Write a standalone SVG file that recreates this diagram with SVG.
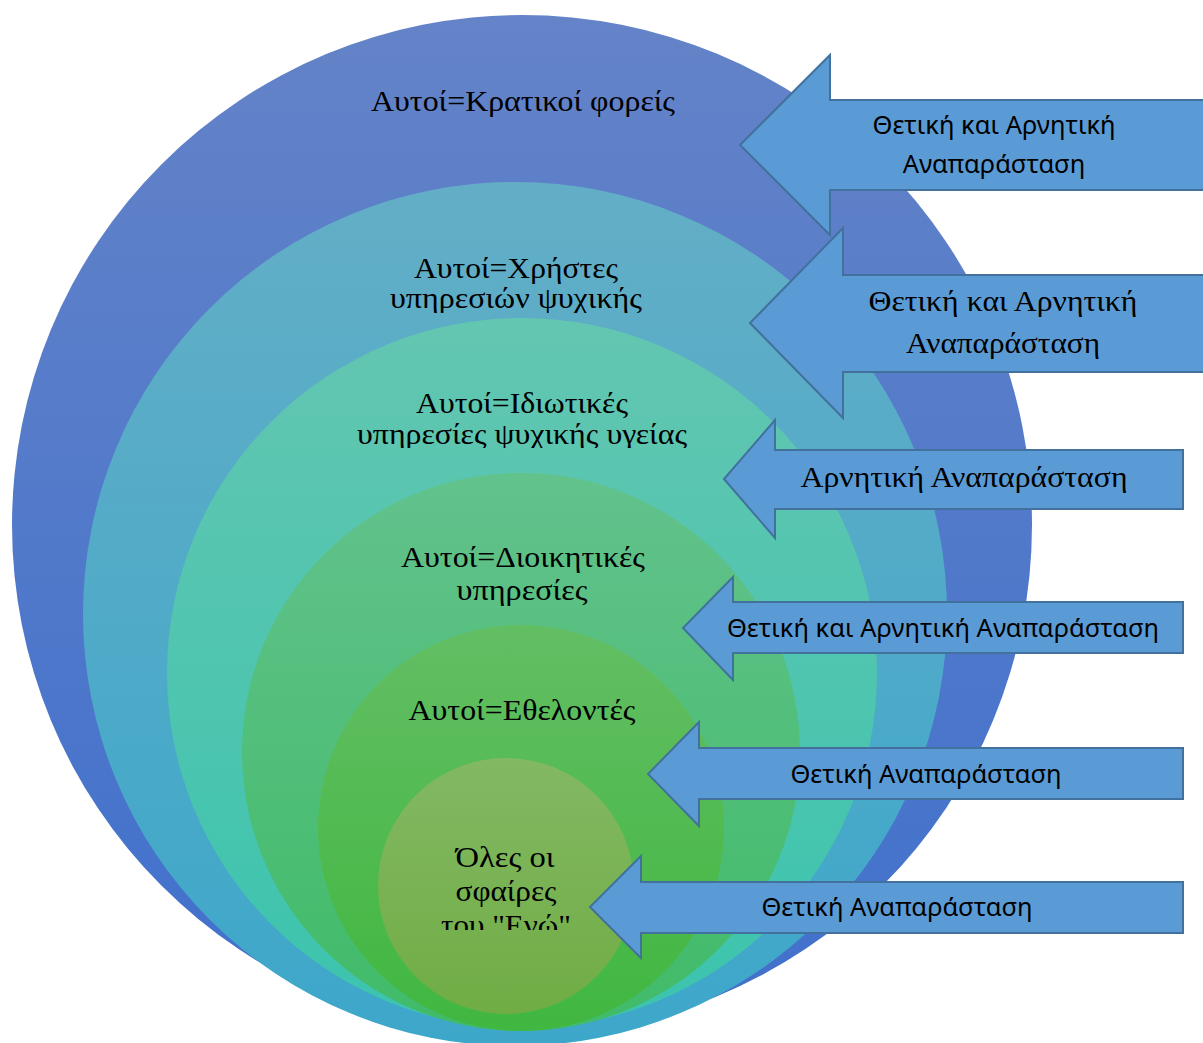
<svg xmlns="http://www.w3.org/2000/svg" width="1203" height="1043" viewBox="0 0 1203 1043">
<style>
.ct{font-family:"Liberation Serif","Times New Roman",serif;font-size:30px;fill:#000;text-anchor:middle}
.as{font-family:"Noto Sans","Open Sans","DejaVu Sans",sans-serif;font-size:25.5px;fill:#000;text-anchor:middle}
.ar{font-family:"Liberation Serif","Times New Roman",serif;font-size:30px;fill:#000;text-anchor:middle}
.arrow{fill:#5B9BD5;stroke:#41719C;stroke-width:2;stroke-linejoin:miter}
</style>
<defs>
<linearGradient id="g1" x1="0" y1="0" x2="0" y2="1"><stop offset="0" stop-color="#6483C8"/><stop offset="1" stop-color="#4070CC"/></linearGradient>
<linearGradient id="g2" x1="0" y1="0" x2="0" y2="1"><stop offset="0" stop-color="#63AEC6"/><stop offset="1" stop-color="#3DA7CA"/></linearGradient>
<linearGradient id="g3" x1="0" y1="0" x2="0" y2="1"><stop offset="0" stop-color="#63C6B1"/><stop offset="1" stop-color="#3BC4AE"/></linearGradient>
<linearGradient id="g4" x1="0" y1="0" x2="0" y2="1"><stop offset="0" stop-color="#62C28C"/><stop offset="1" stop-color="#40BB68"/></linearGradient>
<linearGradient id="g5" x1="0" y1="0" x2="0" y2="1"><stop offset="0" stop-color="#63BE63"/><stop offset="1" stop-color="#40B740"/></linearGradient>
<linearGradient id="g6" x1="0" y1="0" x2="0" y2="1"><stop offset="0" stop-color="#83B864"/><stop offset="1" stop-color="#70AD44"/></linearGradient>
<clipPath id="clip2"><rect x="300" y="240" width="440" height="73"/></clipPath>
<clipPath id="clip3"><rect x="300" y="380" width="440" height="68"/></clipPath>
<clipPath id="clip6"><rect x="400" y="830" width="220" height="100"/></clipPath>
</defs>

<g id="sphere-1">
<circle cx="522" cy="525" r="510" fill="url(#g1)"/>
<text class="ct" x="523" y="111" textLength="304" lengthAdjust="spacingAndGlyphs">Αυτοί=Κρατικοί φορείς</text>
</g>
<g id="sphere-2">
<circle cx="515" cy="614" r="432" fill="url(#g2)"/>
<g clip-path="url(#clip2)">
<text class="ct" x="516" y="278" textLength="204" lengthAdjust="spacingAndGlyphs">Αυτοί=Χρήστες</text>
<text class="ct" x="516" y="308" textLength="252" lengthAdjust="spacingAndGlyphs">υπηρεσιών ψυχικής</text>
</g>
</g>
<g id="sphere-3">
<circle cx="522" cy="673" r="355" fill="url(#g3)"/>
<g clip-path="url(#clip3)">
<text class="ct" x="522" y="413" textLength="212" lengthAdjust="spacingAndGlyphs">Αυτοί=Ιδιωτικές</text>
<text class="ct" x="522" y="444" textLength="330" lengthAdjust="spacingAndGlyphs">υπηρεσίες ψυχικής υγείας</text>
</g>
</g>
<g id="sphere-4">
<circle cx="521" cy="752" r="279" fill="url(#g4)"/>
<text class="ct" x="523" y="567" textLength="244" lengthAdjust="spacingAndGlyphs">Αυτοί=Διοικητικές</text>
<text class="ct" x="522" y="600" textLength="131" lengthAdjust="spacingAndGlyphs">υπηρεσίες</text>
</g>
<g id="sphere-5">
<circle cx="521" cy="828" r="203" fill="url(#g5)"/>
<text class="ct" x="522" y="720" textLength="227" lengthAdjust="spacingAndGlyphs">Αυτοί=Εθελοντές</text>
</g>
<g id="sphere-6">
<circle cx="506" cy="886" r="128" fill="url(#g6)"/>
<g clip-path="url(#clip6)">
<text class="ct" x="505" y="867" textLength="99" lengthAdjust="spacingAndGlyphs">Όλες οι</text>
<text class="ct" x="506" y="901" textLength="101" lengthAdjust="spacingAndGlyphs">σφαίρες</text>
<text class="ct" x="506" y="935" textLength="130" lengthAdjust="spacingAndGlyphs">του "Ενώ"</text>
</g>
</g>

<g id="connectors">
<g id="arrow-1">
<polygon class="arrow" points="1205,100 830,100 830,55 740,145 830,235 830,190 1205,190"/>
<text class="as" x="994" y="134">Θετική και Αρνητική</text>
<text class="as" x="994" y="173">Αναπαράσταση</text>
</g>
<g id="arrow-2">
<polygon class="arrow" points="1205,275 843,275 843,228 750,323 843,418 843,372 1205,372"/>
<text class="ar" x="1003" y="311" textLength="269" lengthAdjust="spacingAndGlyphs">Θετική και Αρνητική</text>
<text class="ar" x="1003" y="353" textLength="194" lengthAdjust="spacingAndGlyphs">Αναπαράσταση</text>
</g>
<g id="arrow-3">
<polygon class="arrow" points="1183,450 775,450 775,420 724,479 775,538 775,509 1183,509"/>
<text class="ar" x="964" y="487" textLength="327" lengthAdjust="spacingAndGlyphs">Αρνητική Αναπαράσταση</text>
</g>
<g id="arrow-4">
<polygon class="arrow" points="1183,602 733,602 733,577 683,628 733,680 733,653 1183,653"/>
<text class="as" x="943" y="637">Θετική και Αρνητική Αναπαράσταση</text>
</g>
<g id="arrow-5">
<polygon class="arrow" points="1183,748 699,748 699,722 648,774 699,826 699,799 1183,799"/>
<text class="as" x="926" y="783">Θετική Αναπαράσταση</text>
</g>
<g id="arrow-6">
<polygon class="arrow" points="1183,882 641,882 641,856 590,907 641,958 641,933 1183,933"/>
<text class="as" x="897" y="916">Θετική Αναπαράσταση</text>
</g>
</g>
</svg>
